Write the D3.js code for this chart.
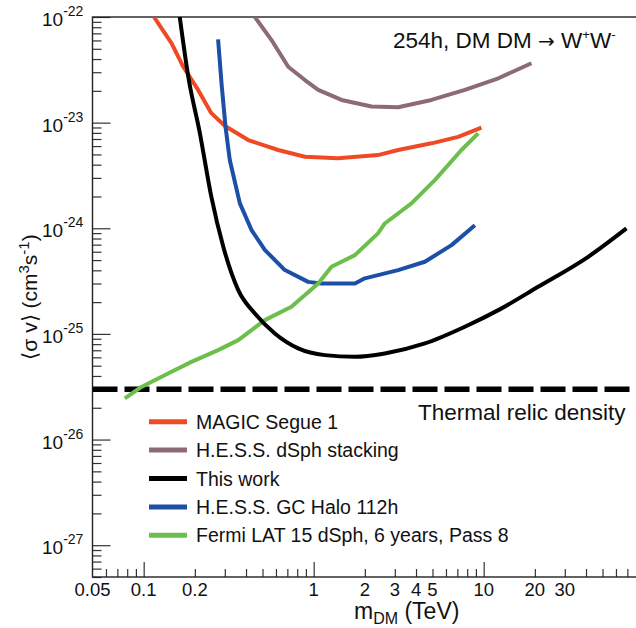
<!DOCTYPE html>
<html>
<head>
<meta charset="utf-8">
<script src="https://cdn.jsdelivr.net/npm/d3@7"></script>
<style>
  body { margin:0; background:#fff; }
  svg { display:block; font-family:"Liberation Sans", Arial, Helvetica, sans-serif; }
</style>
</head>
<body>
<div id="chart"></div>
<script>
// data (mass in TeV, <sigma v> in cm^3 s^-1)
const magicMass  = [0.115,0.146,0.171,0.209,0.250,0.301,0.412,0.618,0.888,1.39,2.39,3.14,4.93,7.08,9.70]
const magicSigma = [1e-22,5.64e-23,3.38e-23,2.04e-23,1.23e-23,9.29e-24,6.84e-24,5.51e-24,4.75e-24,4.59e-24,4.93e-24,5.51e-24,6.37e-24,7.34e-24,8.95e-24]

const hessDsphMass  = [0.451,0.565,0.708,0.888,1.063,1.458,2.19,3.14,4.93,7.75,12.2,19.1]
const hessDsphSigma = [1e-22,6.05e-23,3.38e-23,2.53e-23,2.04e-23,1.64e-23,1.42e-23,1.40e-23,1.64e-23,2.04e-23,2.63e-23,3.65e-23]

const thisWorkMass  = [0.163,0.183,0.214,0.250,0.294,0.360,0.451,0.591,0.811,1.164,1.747,2.62,4.51,7.75,12.2,20.9,41.2,69.2]
const thisWorkSigma = [1e-22,2.72e-23,7.97e-24,1.99e-24,6.68e-25,2.60e-25,1.56e-25,1.01e-25,7.30e-26,6.30e-26,6.07e-26,6.53e-26,8.12e-26,1.17e-25,1.68e-25,2.79e-25,5.37e-25,9.97e-25]

const hessGcMass  = [0.274,0.287,0.303,0.321,0.368,0.431,0.517,0.677,0.928,1.11,1.75,2.00,3.14,4.51,6.47,8.88]
const hessGcSigma = [6.15e-23,2.35e-23,9.14e-24,4.43e-24,1.72e-24,9.62e-25,6.22e-25,4.02e-25,3.11e-25,3.00e-25,3.00e-25,3.36e-25,4.02e-25,4.82e-25,6.93e-25,1.07e-24]

const fermiMass  = [0.0775,0.097,0.139,0.191,0.274,0.360,0.516,0.740,1.063,1.273,1.747,2.39,2.62,3.76,5.16,7.40,9.28]
const fermiSigma = [2.45e-26,3.15e-26,4.22e-26,5.44e-26,7.03e-26,8.74e-26,1.35e-25,1.81e-25,3.00e-25,4.32e-25,5.57e-25,8.95e-25,1.11e-24,1.72e-24,2.86e-24,5.51e-24,7.92e-24]

const thermalRelic = 3e-26

const seriesNames  = ["MAGIC Segue 1","H.E.S.S. dSph stacking","This work","H.E.S.S. GC Halo 112h","Fermi LAT 15 dSph, 6 years, Pass 8"]
const seriesColors = ["#ef4a26","#8c6a7a","#000000","#1c4fa6","#6cbf4a"]

const xMajorTicks = [0.1,1,10,100]
const xMinorTicks = [0.06,0.07,0.08,0.09,0.2,0.3,0.4,0.5,0.6,0.7,0.8,0.9,2,3,4,5,6,7,8,9,20,30,40,50,60,70,80,90]
const xTickLabels = [0.05,0.1,0.2,1,2,3,4,5,10,20,30]
const yTickExps   = [-22,-23,-24,-25,-26,-27]

const W = 636, H = 628
const plotLeft = 92.5, plotTop = 17, plotBottom = 577

const svg = d3.select("#chart")
    .append("svg")
    .attr("width",W)
    .attr("height",H)

const x = d3.scaleLog()
    .domain([0.05,100])
    .range([plotLeft, plotLeft + 170*Math.log10(2000)])

const y = d3.scaleLog()
    .domain([5e-28,1e-22])
    .range([plotBottom, plotTop])

// clip
svg.append("defs").append("clipPath")
    .attr("id","plotclip")
    .append("rect")
    .attr("x",x(0.05)).attr("y",y(1e-22))
    .attr("width",x(100)-x(0.05)).attr("height",y(5e-28)-y(1e-22))

// y minor ticks
const yMinor = []
yTickExps.concat([-28]).forEach(e=>{
    for(let k=2;k<=9;k++){
        const v = k*Math.pow(10,e)
        if(v>=5e-28 && v<1e-22) yMinor.push(v)
    }
})

svg.append("g")
    .attr("transform",`translate(${x(0.05)},0)`)
    .call(d3.axisLeft(y).tickValues(yMinor).tickSize(-9).tickFormat(""))
    .call(g=>g.select(".domain").remove())
svg.append("g")
    .attr("transform",`translate(${x(0.05)},0)`)
    .call(d3.axisLeft(y).tickValues(yTickExps.map(e=>Math.pow(10,e))).tickSize(-18).tickFormat(""))
    .call(g=>g.select(".domain").remove())

// x ticks
svg.append("g")
    .attr("transform",`translate(0,${y(5e-28)})`)
    .call(d3.axisBottom(x).tickValues(xMinorTicks).tickSize(-8).tickFormat(""))
    .call(g=>g.select(".domain").remove())
svg.append("g")
    .attr("transform",`translate(0,${y(5e-28)})`)
    .call(d3.axisBottom(x).tickValues(xMajorTicks).tickSize(-15).tickFormat(""))
    .call(g=>g.select(".domain").remove())

svg.selectAll(".tick line").attr("stroke","#333").attr("stroke-width",1.2)

// frame
svg.append("rect")
    .attr("x",x(0.05)).attr("y",y(1e-22))
    .attr("width",x(100)-x(0.05)).attr("height",y(5e-28)-y(1e-22))
    .attr("fill","none").attr("stroke","#222").attr("stroke-width",1.4)

// y tick labels
const ylab = svg.append("g")
yTickExps.forEach(e=>{
    const t = ylab.append("text")
        .attr("x",42)
        .attr("y",y(Math.pow(10,e))+9)
        .attr("font-size",19)
        .attr("fill","#111")
    t.append("tspan").text("10")
    t.append("tspan").attr("dy",-10).attr("font-size",14).text(e)
})

// x tick labels
svg.append("g").selectAll("text")
    .data(xTickLabels)
    .join("text")
    .attr("x",d=>x(d))
    .attr("y",596)
    .attr("text-anchor","middle")
    .attr("font-size",18.5)
    .attr("fill","#111")
    .text(d=>d)

// axis titles
const xt = svg.append("text")
    .attr("x",354).attr("y",619)
    .attr("font-size",23)
    .attr("fill","#111")
xt.append("tspan").text("m")
xt.append("tspan").attr("dy",5).attr("font-size",16).text("DM")
xt.append("tspan").attr("dy",-5).text(" (TeV)")

const yt = svg.append("text")
    .attr("transform","translate(37,297) rotate(-90)")
    .attr("text-anchor","middle")
    .attr("font-size",21)
    .attr("fill","#111")
yt.append("tspan").text("\u27E8\u03C3 v\u27E9 (cm")
yt.append("tspan").attr("dy",-8).attr("font-size",15).text("3")
yt.append("tspan").attr("dy",8).text("s")
yt.append("tspan").attr("dy",-8).attr("font-size",15).text("-1")
yt.append("tspan").attr("dy",8).text(")")

// curves
const plot = svg.append("g").attr("clip-path","url(#plotclip)")

const line = d3.line()
    .x(d=>x(d[0]))
    .y(d=>y(d[1]))

const smoothLine = d3.line()
    .x(d=>x(d[0]))
    .y(d=>y(d[1]))
    .curve(d3.curveMonotoneX)

const curves = [
    [magicMass,magicSigma,0,line],
    [hessDsphMass,hessDsphSigma,1,line],
    [hessGcMass,hessGcSigma,3,line],
    [fermiMass,fermiSigma,4,line],
    [thisWorkMass,thisWorkSigma,2,smoothLine]
]

// thermal relic line
plot.append("line")
    .attr("x1",x(0.05)).attr("x2",x(100))
    .attr("y1",y(thermalRelic)).attr("y2",y(thermalRelic))
    .attr("stroke","#000")
    .attr("stroke-width",5.5)
    .attr("stroke-dasharray","25,7")

curves.forEach(([m,s,i,gen])=>{
    plot.append("path")
        .datum(m.map((v,j)=>[v,s[j]]))
        .attr("d",gen)
        .attr("fill","none")
        .attr("stroke",seriesColors[i])
        .attr("stroke-width",4)
        .attr("stroke-linejoin","round")
})

svg.append("text")
    .attr("x",418).attr("y",420)
    .attr("font-size",22.5)
    .attr("fill","#111")
    .text("Thermal relic density")

// title
const title = svg.append("text")
    .attr("x",393).attr("y",48)
    .attr("font-size",22.5)
    .attr("fill","#111")
title.append("tspan").text("254h, DM DM ")
title.append("tspan").attr("font-family","DejaVu Sans").attr("font-size",20).text("\u2192")
title.append("tspan").text(" W")
title.append("tspan").attr("dy",-9).attr("font-size",13).text("+")
title.append("tspan").attr("dy",9).text("W")
title.append("tspan").attr("dy",-9).attr("font-size",13).text("-")

// legend
const legend = svg.append("g")
seriesNames.forEach((name,i)=>{
    const ly = 421.7 + i*28.4
    legend.append("line")
        .attr("x1",149).attr("x2",187)
        .attr("y1",ly).attr("y2",ly)
        .attr("stroke",seriesColors[i])
        .attr("stroke-width",5)
    legend.append("text")
        .attr("x",196).attr("y",ly+7)
        .attr("font-size",19.5)
        .attr("fill","#111")
        .text(name)
})
</script>
</body>
</html>
